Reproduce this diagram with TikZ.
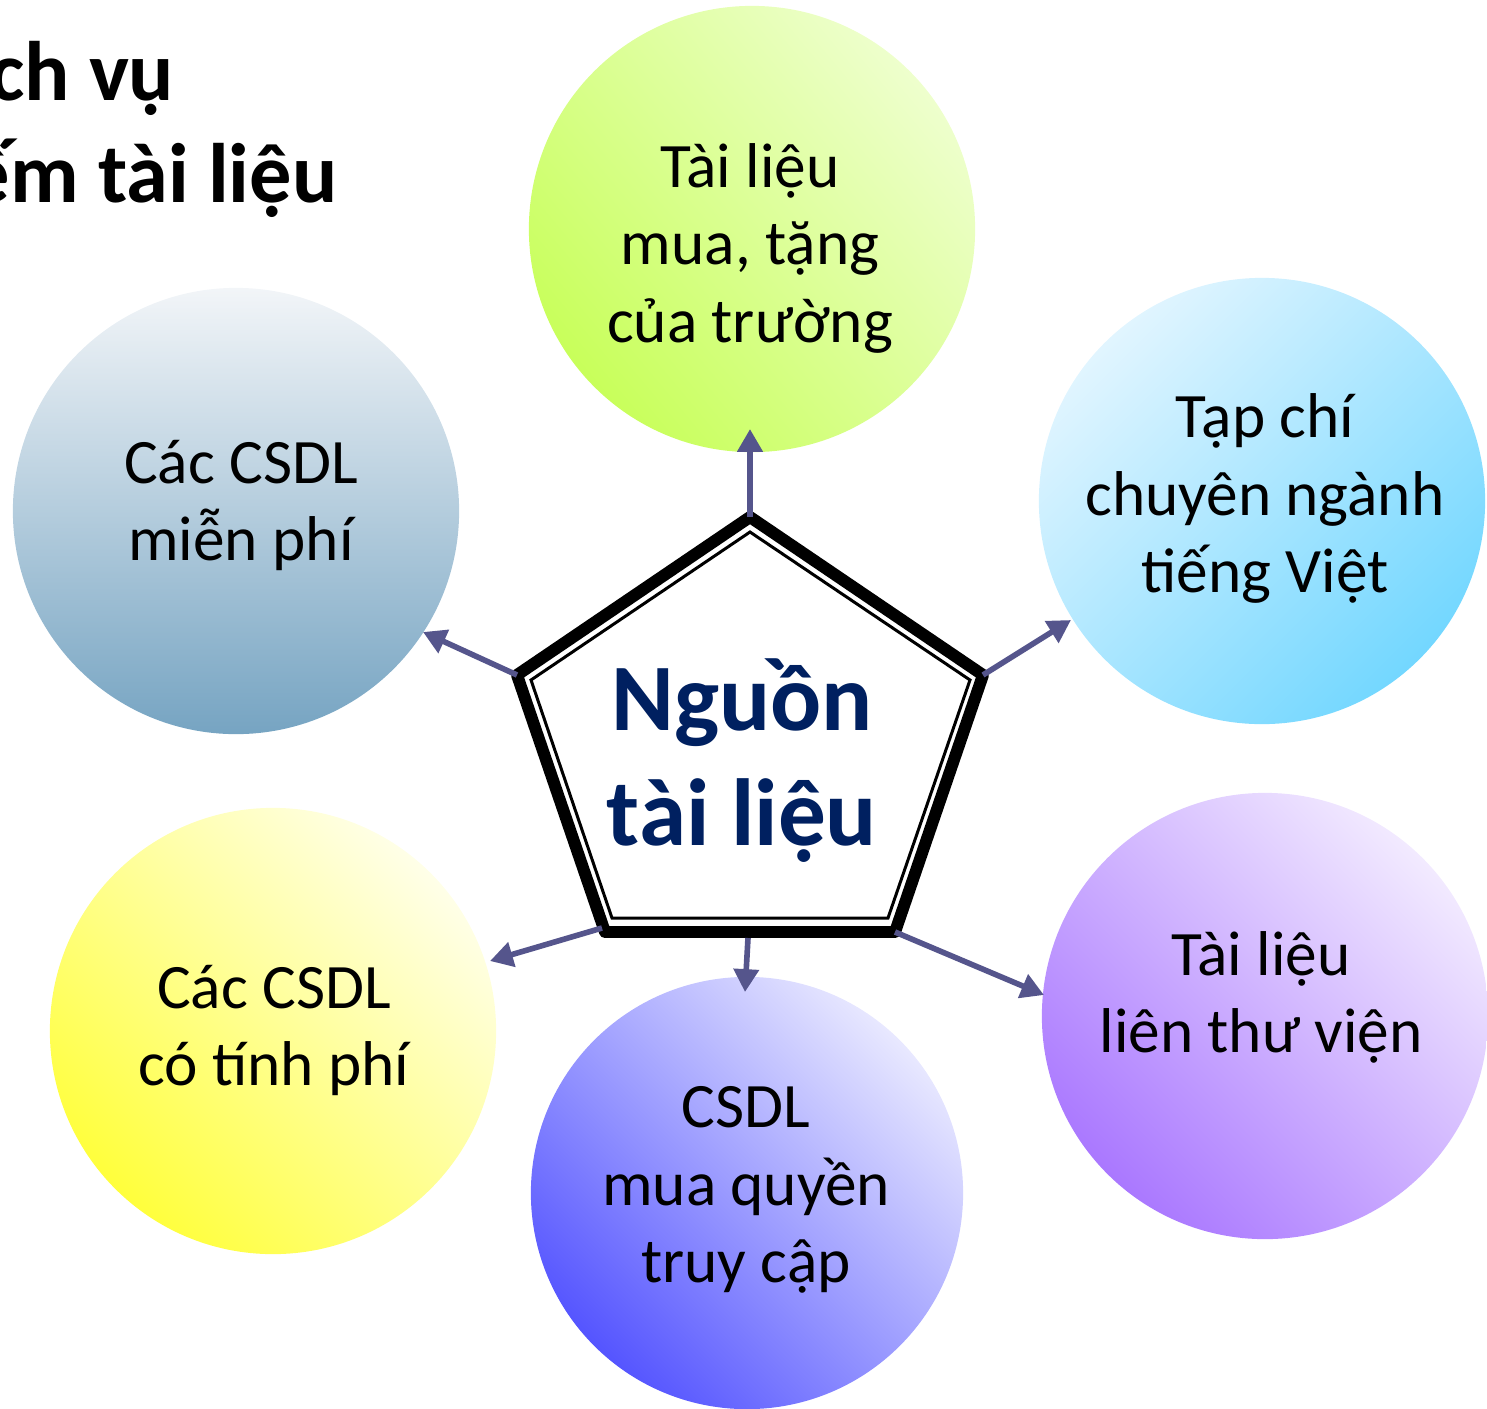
\documentclass[tikz,border=0pt]{standalone}
\usepackage{fontspec}
\setmainfont{Carlito}
\usetikzlibrary{arrows.meta,positioning}

\definecolor{linkcol}{RGB}{85,85,140}
\definecolor{hubtext}{RGB}{0,32,96}

\begin{document}
\begin{tikzpicture}[x=0.01cm,y=-0.01cm,
    bubble/.style={circle,minimum size=4.46cm,inner sep=0pt},
    lbl/.style={anchor=base,align=center,inner sep=0pt,font=\fontsize{18}{21.9}\selectfont},
    link/.style={draw=linkcol,line width=1.6pt,-{Triangle[length=6.5pt,width=7pt]}},
    rim/.style={line width=3.4pt,line join=round},
    rimin/.style={line width=0.85pt}]
  \useasboundingbox (0,0) rectangle (1487,1408);

  % title, cut at the left edge
  \node (title1) [anchor=base east,inner sep=0pt,font=\fontsize{24}{28}\selectfont\bfseries] at (175,100) {ch vụ};
  \node (title2) [anchor=base east,inner sep=0pt,font=\fontsize{24}{28}\selectfont\bfseries] at (338,202) {ếm tài liệu};

  % bubbles
  \node (green) [bubble,top color={rgb,255:red,238;green,255;blue,205},bottom color={rgb,255:red,200;green,255;blue,90},shading angle=-50] at (752,229) {};
  \node (cyan) [bubble,top color={rgb,255:red,225;green,245;blue,255},bottom color={rgb,255:red,115;green,215;blue,255},shading angle=45] at (1262,501) {};
  \node (purple) [bubble,top color={rgb,255:red,242;green,234;blue,255},bottom color={rgb,255:red,170;green,120;blue,255},shading angle=-45] at (1265,1016) {};
  \node (blue) [bubble,minimum size=4.32cm,top color={rgb,255:red,232;green,232;blue,255},bottom color={rgb,255:red,85;green,85;blue,255},shading angle=-45] at (747,1193) {};
  \node (yellow) [bubble,top color={rgb,255:red,255;green,255;blue,232},bottom color={rgb,255:red,255;green,255;blue,60},shading angle=-45] at (273,1031) {};
  \node (steel) [bubble,top color={rgb,255:red,242;green,245;blue,248},bottom color={rgb,255:red,118;green,164;blue,194},shading angle=0] at (236,511) {};

  % labels, placed by their last baseline
  \node (greentext) [lbl] at (750,342) {Tài liệu\\mua, tặng\\của trường};
  \node (cyantext) [lbl] at (1265,592) {Tạp chí\\chuyên ngành\\tiếng Việt};
  \node (purpletext) [lbl] at (1261,1052) {Tài liệu\\liên thư viện};
  \node (bluetext) [lbl] at (746,1282) {CSDL\\mua quyền\\truy cập};
  \node (yellowtext) [lbl] at (274,1085) {Các CSDL\\có tính phí};
  \node (steeltext) [lbl] at (241,560) {Các CSDL\\miễn phí};

  % centre pentagon
  \coordinate (v1) at (750,517);
  \coordinate (v2) at (983,675);
  \coordinate (v3) at (895,932);
  \coordinate (v4) at (605,932);
  \coordinate (v5) at (517,675);
  \draw[rim] (v1) -- (v2) -- (v3) -- (v4) -- (v5) -- cycle;
  \draw[rimin] (750,532) -- (970,680) -- (888,918) -- (612,918) -- (531,680) -- cycle;
  \node (hub) [anchor=base,align=center,inner sep=0pt,text=hubtext,font=\fontsize{27.1}{32.7}\selectfont\bfseries] at (742,845) {Nguồn\\tài liệu};

  % arrow tips
  \coordinate (tgreen) at (750,429);
  \coordinate (tcyan) at (1071,620);
  \coordinate (tpurple) at (1044,995);
  \coordinate (tblue) at (745,992);
  \coordinate (tyellow) at (490,961);
  \coordinate (tsteel) at (423,632);
  \coordinate (sblue) at (748,938);
  \coordinate (syellow) at (602,928);

  \draw[link] (v1) -- (tgreen);
  \draw[link] (v2) -- (tcyan);
  \draw[link] (v3) -- (tpurple);
  \draw[link] (sblue) -- (tblue);
  \draw[link] (syellow) -- (tyellow);
  \draw[link] (v5) -- (tsteel);
\end{tikzpicture}
\end{document}
